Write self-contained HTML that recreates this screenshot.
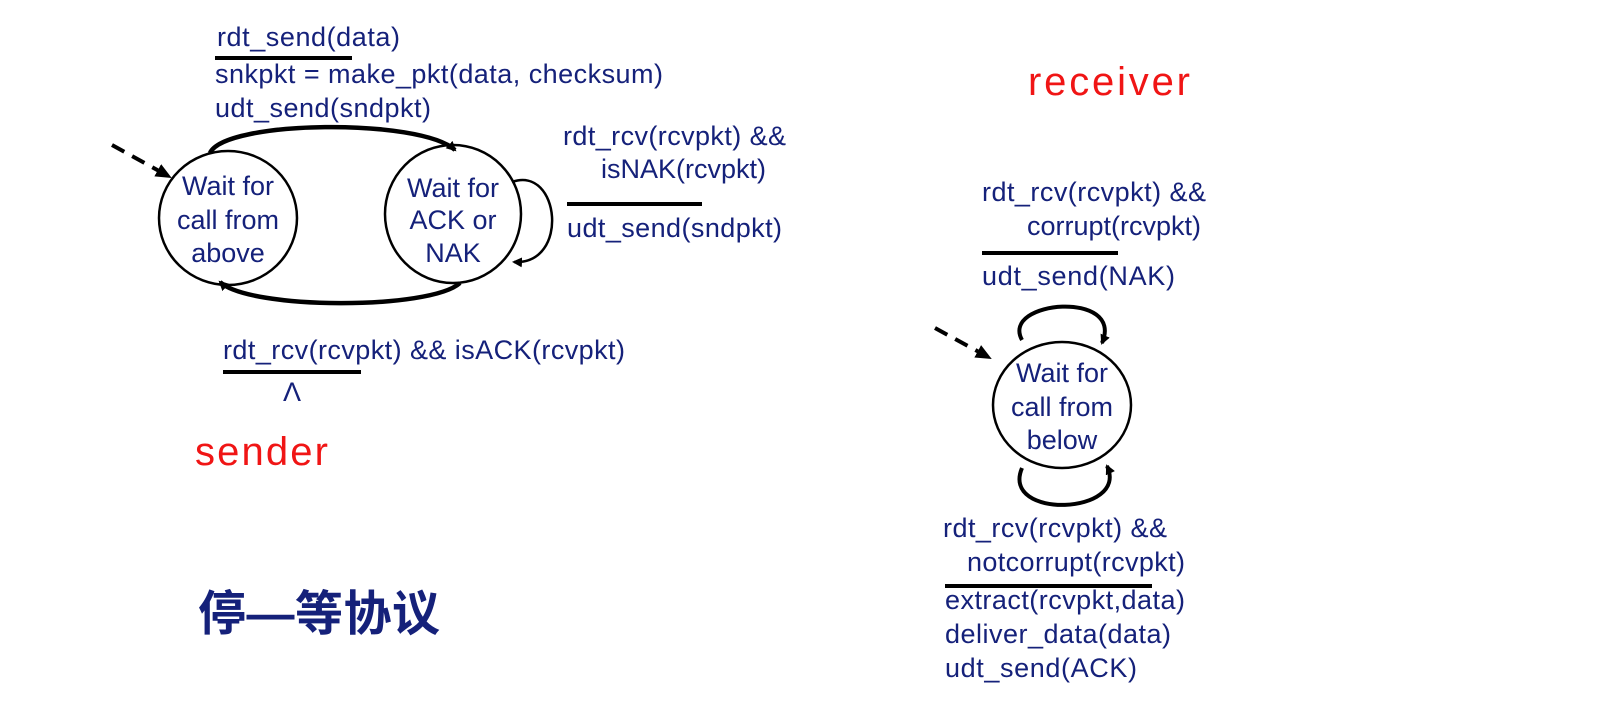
<!DOCTYPE html>
<html><head><meta charset="utf-8"><style>
html,body{margin:0;padding:0;background:#fff;}
svg{display:block;}
text{font-family:"Liberation Sans",Arial,sans-serif;fill:#15217a;font-size:27px;}
.c{font-size:27px;}
.r{fill:#f01515;font-size:40px;}
.cn{font-family:"Liberation Sans","Noto Sans CJK SC",sans-serif;font-size:48px;font-weight:bold;fill:#15217a;}
</style></head><body>
<svg width="1617" height="703" viewBox="0 0 1617 703" xmlns="http://www.w3.org/2000/svg">
<defs>
<marker id="ah" markerWidth="10" markerHeight="10" refX="8" refY="5" orient="auto" markerUnits="userSpaceOnUse">
<path d="M0,0 L10,5 L0,10 z" fill="#000"/></marker>
<marker id="ah2" markerWidth="16" markerHeight="16" refX="14" refY="8" orient="auto" markerUnits="userSpaceOnUse">
<path d="M0,1 L16,8 L0,15 z" fill="#000"/></marker>
</defs>
<g fill="none" stroke="#000">
<ellipse cx="228" cy="218" rx="69" ry="67" stroke-width="2.5"/>
<ellipse cx="453" cy="214" rx="68" ry="69" stroke-width="2.5"/>
<line x1="112" y1="145" x2="170" y2="177" stroke-width="4" stroke-dasharray="14,9" marker-end="url(#ah2)"/>
<path d="M210,153 C225,120 420,118 455,150" stroke-width="4.5" marker-end="url(#ah)"/>
<path d="M460,283 C430,310 250,310 220,282" stroke-width="4.5" marker-end="url(#ah)"/>
<path d="M512,182 C560,165 570,265 514,262" stroke-width="2.5" marker-end="url(#ah)"/>
<line x1="215" y1="58" x2="352" y2="58" stroke-width="4"/>
<line x1="567" y1="204" x2="702" y2="204" stroke-width="4"/>
<line x1="223" y1="372" x2="361" y2="372" stroke-width="4"/>
<ellipse cx="1062" cy="405" rx="69" ry="63" stroke-width="2.5"/>
<line x1="935" y1="328" x2="990" y2="358" stroke-width="4" stroke-dasharray="14,9" marker-end="url(#ah2)"/>
<path d="M1022,340 C1000,300 1125,290 1102,343" stroke-width="4" marker-end="url(#ah)"/>
<path d="M1022,468 C1000,520 1130,515 1107,466" stroke-width="4" marker-end="url(#ah)"/>
<line x1="982" y1="253" x2="1118" y2="253" stroke-width="4"/>
<line x1="945" y1="586" x2="1152" y2="586" stroke-width="4"/>
</g>
<text x="217" y="46" textLength="183">rdt_send(data)</text>
<text x="215" y="83" textLength="448">snkpkt = make_pkt(data, checksum)</text>
<text x="215" y="117" textLength="216">udt_send(sndpkt)</text>
<text class="c" x="228" y="195" text-anchor="middle">Wait for</text>
<text class="c" x="228" y="229" text-anchor="middle">call from</text>
<text class="c" x="228" y="262" text-anchor="middle">above</text>
<text class="c" x="453" y="197" text-anchor="middle">Wait for</text>
<text class="c" x="453" y="229" text-anchor="middle">ACK or</text>
<text class="c" x="453" y="262" text-anchor="middle">NAK</text>
<text x="563" y="145" textLength="223">rdt_rcv(rcvpkt) &amp;&amp;</text>
<text x="601" y="178">isNAK(rcvpkt)</text>
<text x="567" y="237" textLength="215">udt_send(sndpkt)</text>
<text x="223" y="359" textLength="402">rdt_rcv(rcvpkt) &amp;&amp; isACK(rcvpkt)</text>
<text x="292" y="401" text-anchor="middle">Λ</text>
<text class="r" x="195" y="465" textLength="133">sender</text>
<text class="cn" x="198" y="630" textLength="242">停—等协议</text>
<text class="r" x="1028" y="95" textLength="162">receiver</text>
<text x="982" y="201" textLength="224">rdt_rcv(rcvpkt) &amp;&amp;</text>
<text x="1027" y="235">corrupt(rcvpkt)</text>
<text x="982" y="285" textLength="193">udt_send(NAK)</text>
<text class="c" x="1062" y="382" text-anchor="middle">Wait for</text>
<text class="c" x="1062" y="416" text-anchor="middle">call from</text>
<text class="c" x="1062" y="449" text-anchor="middle">below</text>
<text x="943" y="537" textLength="224">rdt_rcv(rcvpkt) &amp;&amp;</text>
<text x="967" y="571" textLength="218">notcorrupt(rcvpkt)</text>
<text x="945" y="609" textLength="240">extract(rcvpkt,data)</text>
<text x="945" y="643" textLength="226">deliver_data(data)</text>
<text x="945" y="677" textLength="192">udt_send(ACK)</text>
</svg>
</body></html>
